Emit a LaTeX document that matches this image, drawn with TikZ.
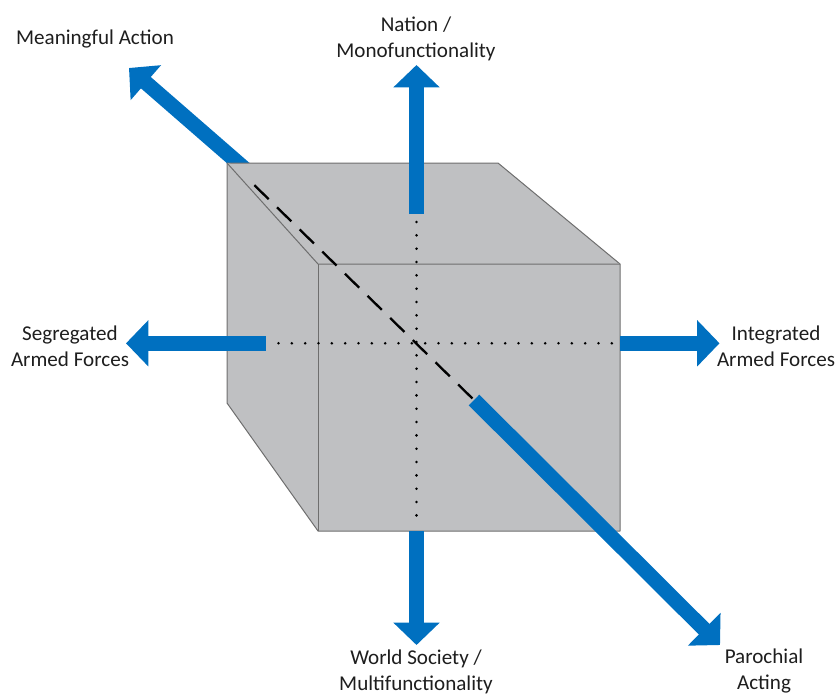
\documentclass[tikz,border=0pt]{standalone}
\usepackage{fontspec}
\setmainfont{Carlito}
\usepackage{tikz}
\usetikzlibrary{positioning,arrows.meta}
\usepackage{xcolor}
\definecolor{axisblue}{RGB}{0,112,192}
\definecolor{cubegray}{RGB}{191,192,194}
\definecolor{cubeedge}{RGB}{110,110,110}
\definecolor{labeltext}{RGB}{30,30,30}
\tikzset{
	axislabel/.style={%
		align=center, inner sep=0pt,
		text=labeltext,
		font=\fontsize{18}{22}\selectfont
	},
	axisarrow/.style={%
		draw=axisblue, line width=4.5mm,
		-{Triangle[width=13.5mm,length=6.7mm]}
	},
	cubeface/.style={fill=cubegray, draw=cubeedge, line width=0.3mm, line join=round},
	dotline/.style={line width=0.85mm, line cap=round, dash pattern=on 0pt off 4mm},
	dashline/.style={line width=0.7mm, dash pattern=on 6mm off 3.5mm, dash phase=6mm}
}

\begin{document}
\begin{tikzpicture}[x=0.3mm,y=-0.3mm]
		\useasboundingbox (0,0) rectangle (836,696);
		
		% Labels of the six directions
		\node[axislabel] (meaningful) at (95,39) {Meaningful Action};
		\node[axislabel] (nation) at (416,39) {Nation /\\Monofunctionality};
		\node[axislabel] (segregated) at (70,346) {Segregated\\Armed Forces};
		\node[axislabel] (integrated) at (776,346) {Integrated\\Armed Forces};
		\node[axislabel] (world) at (416,672) {World Society /\\Multifunctionality};
		\node[axislabel] (parochial) at (764,671) {Parochial\\Acting};
		
		% Ends of the arrows
		\coordinate (uptail) at (416.5,214);
		\coordinate (uptip) at (416.5,65);
		\coordinate (downtail) at (416.5,531);
		\coordinate (downtip) at (416.5,645);
		\coordinate (lefttail) at (265.5,343.3);
		\coordinate (lefttip) at (126,343.3);
		\coordinate (righttail) at (620,343.3);
		\coordinate (righttip) at (719.5,343.3);
		\coordinate (ultail) at (260,182);
		\coordinate (ultip) at (129,68);
		\coordinate (lrtail) at (474,400);
		\coordinate (lrtip) at (720,645);
		\coordinate (dashstart) at (246,177);
		
		% Corners of the cube
		\coordinate (btl) at (227,163);
		\coordinate (btr) at (498,163);
		\coordinate (bbl) at (227,403);
		\coordinate (ftl) at (318,264);
		\coordinate (ftr) at (620,264);
		\coordinate (fbr) at (620,531);
		\coordinate (fbl) at (318,531);
		
		% this arrow goes behind the cube
		\draw[axisarrow] (ultail) -- (ultip);
		
		\draw[cubeface] (btl) -- (btr) -- (ftr) -- (fbr) -- (fbl) -- (bbl) -- cycle;
		\draw[cubeface] (btl) -- (ftl) -- (ftr);
		\draw[cubeface] (ftl) -- (fbl);
		
		% axes through the cube
		\draw[dotline, dash phase=1.6mm, shorten >=3mm] (uptail) -- (downtail);
		\draw[dotline, dash phase=0.1mm] (lefttail) -- (righttail);
		\draw[dashline] (dashstart) -- (lrtail);
		
		\draw[axisarrow] (uptail) -- (uptip);
		\draw[axisarrow] (downtail) -- (downtip);
		\draw[axisarrow] (lefttail) -- (lefttip);
		\draw[axisarrow] (righttail) -- (righttip);
		\draw[axisarrow] (lrtail) -- (lrtip);
		
\end{tikzpicture}
\end{document}
